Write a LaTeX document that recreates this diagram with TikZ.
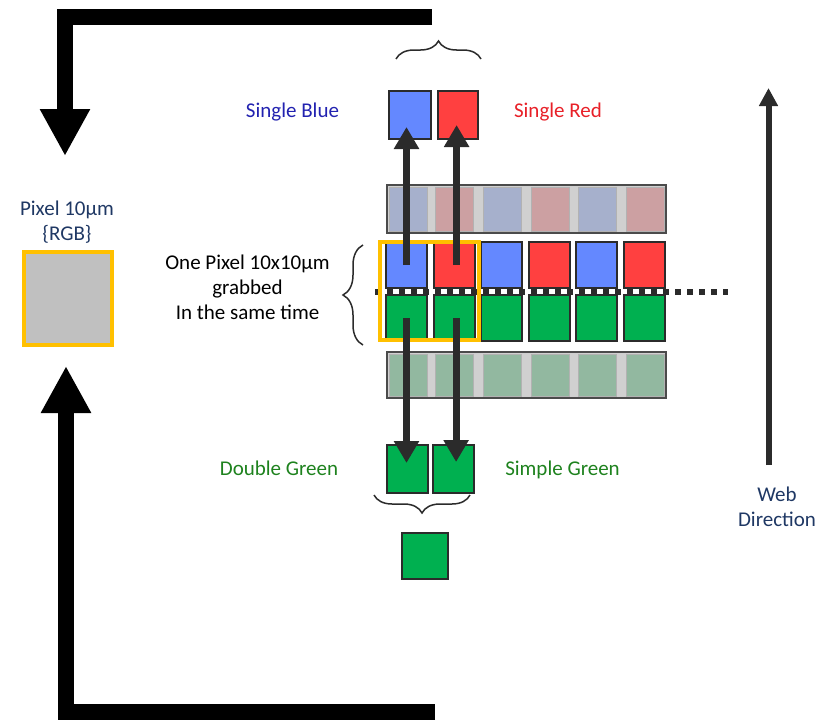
\documentclass[tikz,border=0pt]{standalone}
\usepackage{fontspec}
\setmainfont{Carlito}
\usetikzlibrary{arrows.meta,decorations.pathreplacing}
\definecolor{dark}{RGB}{43,43,43}
\definecolor{cblue}{RGB}{100,136,255}
\definecolor{cred}{RGB}{255,64,64}
\definecolor{cgreen}{RGB}{0,176,80}
\definecolor{fblue}{RGB}{166,176,204}
\definecolor{fred}{RGB}{204,160,162}
\definecolor{fgreen}{RGB}{146,184,160}
\definecolor{fgap}{RGB}{208,208,208}
\definecolor{gold}{RGB}{255,192,0}
\definecolor{navy}{RGB}{31,56,100}
\definecolor{tblue}{RGB}{34,34,176}
\definecolor{tred}{RGB}{232,32,40}
\definecolor{tgreen}{RGB}{30,130,30}
\definecolor{pixgray}{RGB}{192,192,192}
\begin{document}
\begin{tikzpicture}[x=1pt,y=-1pt,
  cell/.style={draw=dark, line width=2pt, minimum width=41pt, minimum height=46pt, inner sep=0pt, outer sep=0pt},
  sq/.style={draw=dark, line width=2pt, inner sep=0pt, outer sep=0pt},
  frow/.style={draw=dark!85, fill=fgap, line width=1.5pt, minimum width=279pt, inner sep=0pt, outer sep=0pt},
  fcell/.style={draw=gray!60, line width=0.8pt, minimum width=38pt, inner sep=0pt, outer sep=0pt},
  lbl/.style={font=\fontsize{21}{25}\selectfont, align=center, inner sep=0pt},
  arr/.style={draw=dark, line width=7pt, -{Triangle[width=24pt,length=22pt]}},
  bigarr/.style={draw=black, line width=16pt, line join=miter, -{Triangle[width=47pt,length=47pt]}},
  bracestyle/.style={draw=dark, line width=1.5pt, decorate, decoration={brace, amplitude=#1}}
]
\useasboundingbox (0,0) rectangle (821,720);

% big frame arrows
\coordinate (ft1) at (432,17);
\coordinate (ft2) at (65,17);
\coordinate (ft3) at (65,156);
\draw[bigarr] (ft1) -- (ft2) -- (ft3);
\coordinate (fb1) at (435,712);
\coordinate (fb2) at (66,712);
\coordinate (fb3) at (66,366);
\draw[bigarr] (fb1) -- (fb2) -- (fb3);

% left pixel
\node[draw=gold, fill=pixgray, line width=4pt, minimum width=88pt, minimum height=93pt, inner sep=0pt] (pix) at (68,298.5) {};
\node[lbl, text=navy] (pixlbl) at (67,222.5) {Pixel 10µm\\\{RGB\}};

% faded top row
\node[frow, minimum height=48pt] (fr1) at (526.5,209) {};
\foreach \x/\c [count=\i] in {408/fblue,454.5/fred,502.5/fblue,550/fred,597.5/fblue,645/fred}
  \node[fcell, fill=\c, minimum height=44pt] (ft\i) at (\x,209) {};
% faded bottom row
\node[frow, minimum height=46pt] (fr2) at (526.5,375) {};
\foreach \x [count=\i] in {408,454.5,502.5,550,597.5,645}
  \node[fcell, fill=fgreen, minimum height=42pt] (fg\i) at (\x,375) {};

% main rows
\node[cell, fill=cblue] (b1) at (406.5,265) {};
\node[cell, fill=cred]  (r1) at (454.1,265) {};
\node[cell, fill=cblue] (b2) at (501.7,265) {};
\node[cell, fill=cred]  (r2) at (549.3,265) {};
\node[cell, fill=cblue] (b3) at (596.9,265) {};
\node[cell, fill=cred]  (r3) at (644.5,265) {};
\foreach \x [count=\i] in {406.5,454.1,501.7,549.3,596.9,644.5}
  \node[cell, fill=cgreen] (g\i) at (\x,318) {};

% dotted line
\coordinate (d1) at (375,291.5);
\coordinate (d2) at (728,291.5);
\draw[dark, line width=6pt, dash pattern=on 6pt off 6pt] (d1) -- (d2);

% yellow pixel box
\node[draw=gold, line width=4pt, minimum width=99pt, minimum height=98pt, inner sep=0pt] (yb) at (429.5,291) {};

% top single squares
\node[sq, fill=cblue, minimum width=42pt, minimum height=48pt] (tb) at (410,115) {};
\node[sq, fill=cred, minimum width=40pt, minimum height=48pt] (tr) at (458,115) {};
% bottom green squares
\node[sq, fill=cgreen, minimum width=41pt, minimum height=48pt] (bl) at (407.5,469) {};
\node[sq, fill=cgreen, minimum width=41pt, minimum height=48pt] (br) at (453.5,469) {};
\node[sq, fill=cgreen, minimum width=46pt, minimum height=46pt] (bs) at (425,556) {};

% arrows
\draw[arr] (b1.center) -- ([yshift=12pt]b1.center |- tb.south);
\draw[arr] ([xshift=2.5pt]r1.center) -- ([xshift=2.5pt,yshift=14pt]r1.center |- tr.south);
\draw[arr] (g1.center) -- ([yshift=-18pt]g1.center |- bl.north);
\draw[arr] ([xshift=2pt]g2.center) -- ([xshift=2pt,yshift=-17pt]g2.center |- br.north);

% web direction arrow
\coordinate (w1) at (768.5,465);
\coordinate (w2) at (768.5,88);
\draw[draw=dark, line width=6pt, -{Triangle[width=18pt,length=18pt]}] (w1) -- (w2);

% braces
\coordinate (br1a) at (396,59);
\coordinate (br1b) at (481,59);
\draw[bracestyle=18pt] (br1a) -- (br1b);
\coordinate (br2a) at (470,495);
\coordinate (br2b) at (374,495);
\draw[bracestyle=18pt] (br2a) -- (br2b);
\coordinate (br3a) at (363,345);
\coordinate (br3b) at (363,245);
\draw[bracestyle=20pt] (br3a) -- (br3b);

% labels
\node[lbl, text=tblue, anchor=base] (lsb) at (292.5,117) {Single Blue};
\node[lbl, text=tred, anchor=base] (lsr) at (558,117) {Single Red};
\node[lbl, text=tgreen, anchor=base] (ldg) at (279,475.5) {Double Green};
\node[lbl, text=tgreen, anchor=base] (lsg) at (562.5,475.5) {Simple Green};
\node[lbl, text=navy] (lweb) at (777,506.5) {Web\\Direction};
\node[lbl, text=black] (lone) at (247.5,287) {One Pixel 10x10µm\\grabbed\\In the same time};
\end{tikzpicture}
\end{document}
